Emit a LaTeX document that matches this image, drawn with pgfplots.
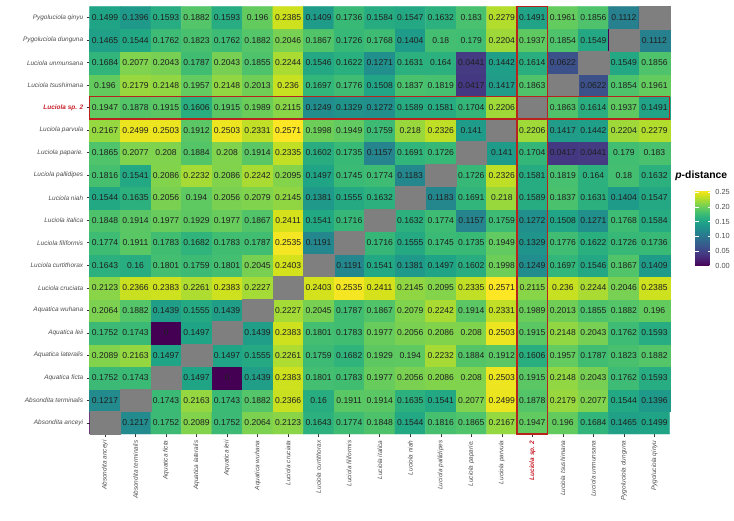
\documentclass[border=0pt]{standalone}
\usepackage{fontspec}
\setmainfont{Liberation Sans}
\usepackage{pgfplots}
\usepackage{pgfplotstable}
\pgfplotsset{compat=1.18}
\definecolor{gray30}{RGB}{77,77,77}
\definecolor{gray20}{RGB}{51,51,51}
\definecolor{naGray}{RGB}{127,127,127}
\definecolor{spred}{RGB}{200,30,40}
\definecolor{boxred}{RGB}{185,35,30}
\pgfdeclareplotmark{cell}{%
  \pgfpathrectangle{\pgfpoint{-15.263bp}{-11.25bp}}{\pgfpoint{30.526bp}{22.5bp}}%
  \pgfusepathqfillstroke}
% p-distance matrix (x = column, y = row; diagonal = self distance, shown grey)
\pgfplotstableread[row sep=\\]{
x y v\\
0 0 0\\ 1 0 0.1217\\ 2 0 0.1752\\ 3 0 0.2089\\ 4 0 0.1752\\ 5 0 0.2064\\ 6 0 0.2123\\ 7 0 0.1643\\ 8 0 0.1774\\ 9 0 0.1848\\ 10 0 0.1544\\ 11 0 0.1816\\ 12 0 0.1865\\ 13 0 0.2167\\ 14 0 0.1947\\ 15 0 0.196\\ 16 0 0.1684\\ 17 0 0.1465\\ 18 0 0.1499\\
0 1 0.1217\\ 1 1 0\\ 2 1 0.1743\\ 3 1 0.2163\\ 4 1 0.1743\\ 5 1 0.1882\\ 6 1 0.2366\\ 7 1 0.16\\ 8 1 0.1911\\ 9 1 0.1914\\ 10 1 0.1635\\ 11 1 0.1541\\ 12 1 0.2077\\ 13 1 0.2499\\ 14 1 0.1878\\ 15 1 0.2179\\ 16 1 0.2077\\ 17 1 0.1544\\ 18 1 0.1396\\
0 2 0.1752\\ 1 2 0.1743\\ 2 2 0\\ 3 2 0.1497\\ 4 2 0\\ 5 2 0.1439\\ 6 2 0.2383\\ 7 2 0.1801\\ 8 2 0.1783\\ 9 2 0.1977\\ 10 2 0.2056\\ 11 2 0.2086\\ 12 2 0.208\\ 13 2 0.2503\\ 14 2 0.1915\\ 15 2 0.2148\\ 16 2 0.2043\\ 17 2 0.1762\\ 18 2 0.1593\\
0 3 0.2089\\ 1 3 0.2163\\ 2 3 0.1497\\ 3 3 0\\ 4 3 0.1497\\ 5 3 0.1555\\ 6 3 0.2261\\ 7 3 0.1759\\ 8 3 0.1682\\ 9 3 0.1929\\ 10 3 0.194\\ 11 3 0.2232\\ 12 3 0.1884\\ 13 3 0.1912\\ 14 3 0.1606\\ 15 3 0.1957\\ 16 3 0.1787\\ 17 3 0.1823\\ 18 3 0.1882\\
0 4 0.1752\\ 1 4 0.1743\\ 2 4 0\\ 3 4 0.1497\\ 4 4 0\\ 5 4 0.1439\\ 6 4 0.2383\\ 7 4 0.1801\\ 8 4 0.1783\\ 9 4 0.1977\\ 10 4 0.2056\\ 11 4 0.2086\\ 12 4 0.208\\ 13 4 0.2503\\ 14 4 0.1915\\ 15 4 0.2148\\ 16 4 0.2043\\ 17 4 0.1762\\ 18 4 0.1593\\
0 5 0.2064\\ 1 5 0.1882\\ 2 5 0.1439\\ 3 5 0.1555\\ 4 5 0.1439\\ 5 5 0\\ 6 5 0.2227\\ 7 5 0.2045\\ 8 5 0.1787\\ 9 5 0.1867\\ 10 5 0.2079\\ 11 5 0.2242\\ 12 5 0.1914\\ 13 5 0.2331\\ 14 5 0.1989\\ 15 5 0.2013\\ 16 5 0.1855\\ 17 5 0.1882\\ 18 5 0.196\\
0 6 0.2123\\ 1 6 0.2366\\ 2 6 0.2383\\ 3 6 0.2261\\ 4 6 0.2383\\ 5 6 0.2227\\ 6 6 0\\ 7 6 0.2403\\ 8 6 0.2535\\ 9 6 0.2411\\ 10 6 0.2145\\ 11 6 0.2095\\ 12 6 0.2335\\ 13 6 0.2571\\ 14 6 0.2115\\ 15 6 0.236\\ 16 6 0.2244\\ 17 6 0.2046\\ 18 6 0.2385\\
0 7 0.1643\\ 1 7 0.16\\ 2 7 0.1801\\ 3 7 0.1759\\ 4 7 0.1801\\ 5 7 0.2045\\ 6 7 0.2403\\ 7 7 0\\ 8 7 0.1191\\ 9 7 0.1541\\ 10 7 0.1381\\ 11 7 0.1497\\ 12 7 0.1602\\ 13 7 0.1998\\ 14 7 0.1249\\ 15 7 0.1697\\ 16 7 0.1546\\ 17 7 0.1867\\ 18 7 0.1409\\
0 8 0.1774\\ 1 8 0.1911\\ 2 8 0.1783\\ 3 8 0.1682\\ 4 8 0.1783\\ 5 8 0.1787\\ 6 8 0.2535\\ 7 8 0.1191\\ 8 8 0\\ 9 8 0.1716\\ 10 8 0.1555\\ 11 8 0.1745\\ 12 8 0.1735\\ 13 8 0.1949\\ 14 8 0.1329\\ 15 8 0.1776\\ 16 8 0.1622\\ 17 8 0.1726\\ 18 8 0.1736\\
0 9 0.1848\\ 1 9 0.1914\\ 2 9 0.1977\\ 3 9 0.1929\\ 4 9 0.1977\\ 5 9 0.1867\\ 6 9 0.2411\\ 7 9 0.1541\\ 8 9 0.1716\\ 9 9 0\\ 10 9 0.1632\\ 11 9 0.1774\\ 12 9 0.1157\\ 13 9 0.1759\\ 14 9 0.1272\\ 15 9 0.1508\\ 16 9 0.1271\\ 17 9 0.1768\\ 18 9 0.1584\\
0 10 0.1544\\ 1 10 0.1635\\ 2 10 0.2056\\ 3 10 0.194\\ 4 10 0.2056\\ 5 10 0.2079\\ 6 10 0.2145\\ 7 10 0.1381\\ 8 10 0.1555\\ 9 10 0.1632\\ 10 10 0\\ 11 10 0.1183\\ 12 10 0.1691\\ 13 10 0.218\\ 14 10 0.1589\\ 15 10 0.1837\\ 16 10 0.1631\\ 17 10 0.1404\\ 18 10 0.1547\\
0 11 0.1816\\ 1 11 0.1541\\ 2 11 0.2086\\ 3 11 0.2232\\ 4 11 0.2086\\ 5 11 0.2242\\ 6 11 0.2095\\ 7 11 0.1497\\ 8 11 0.1745\\ 9 11 0.1774\\ 10 11 0.1183\\ 11 11 0\\ 12 11 0.1726\\ 13 11 0.2326\\ 14 11 0.1581\\ 15 11 0.1819\\ 16 11 0.164\\ 17 11 0.18\\ 18 11 0.1632\\
0 12 0.1865\\ 1 12 0.2077\\ 2 12 0.208\\ 3 12 0.1884\\ 4 12 0.208\\ 5 12 0.1914\\ 6 12 0.2335\\ 7 12 0.1602\\ 8 12 0.1735\\ 9 12 0.1157\\ 10 12 0.1691\\ 11 12 0.1726\\ 12 12 0\\ 13 12 0.141\\ 14 12 0.1704\\ 15 12 0.0417\\ 16 12 0.0441\\ 17 12 0.179\\ 18 12 0.183\\
0 13 0.2167\\ 1 13 0.2499\\ 2 13 0.2503\\ 3 13 0.1912\\ 4 13 0.2503\\ 5 13 0.2331\\ 6 13 0.2571\\ 7 13 0.1998\\ 8 13 0.1949\\ 9 13 0.1759\\ 10 13 0.218\\ 11 13 0.2326\\ 12 13 0.141\\ 13 13 0\\ 14 13 0.2206\\ 15 13 0.1417\\ 16 13 0.1442\\ 17 13 0.2204\\ 18 13 0.2279\\
0 14 0.1947\\ 1 14 0.1878\\ 2 14 0.1915\\ 3 14 0.1606\\ 4 14 0.1915\\ 5 14 0.1989\\ 6 14 0.2115\\ 7 14 0.1249\\ 8 14 0.1329\\ 9 14 0.1272\\ 10 14 0.1589\\ 11 14 0.1581\\ 12 14 0.1704\\ 13 14 0.2206\\ 14 14 0\\ 15 14 0.1863\\ 16 14 0.1614\\ 17 14 0.1937\\ 18 14 0.1491\\
0 15 0.196\\ 1 15 0.2179\\ 2 15 0.2148\\ 3 15 0.1957\\ 4 15 0.2148\\ 5 15 0.2013\\ 6 15 0.236\\ 7 15 0.1697\\ 8 15 0.1776\\ 9 15 0.1508\\ 10 15 0.1837\\ 11 15 0.1819\\ 12 15 0.0417\\ 13 15 0.1417\\ 14 15 0.1863\\ 15 15 0\\ 16 15 0.0622\\ 17 15 0.1854\\ 18 15 0.1961\\
0 16 0.1684\\ 1 16 0.2077\\ 2 16 0.2043\\ 3 16 0.1787\\ 4 16 0.2043\\ 5 16 0.1855\\ 6 16 0.2244\\ 7 16 0.1546\\ 8 16 0.1622\\ 9 16 0.1271\\ 10 16 0.1631\\ 11 16 0.164\\ 12 16 0.0441\\ 13 16 0.1442\\ 14 16 0.1614\\ 15 16 0.0622\\ 16 16 0\\ 17 16 0.1549\\ 18 16 0.1856\\
0 17 0.1465\\ 1 17 0.1544\\ 2 17 0.1762\\ 3 17 0.1823\\ 4 17 0.1762\\ 5 17 0.1882\\ 6 17 0.2046\\ 7 17 0.1867\\ 8 17 0.1726\\ 9 17 0.1768\\ 10 17 0.1404\\ 11 17 0.18\\ 12 17 0.179\\ 13 17 0.2204\\ 14 17 0.1937\\ 15 17 0.1854\\ 16 17 0.1549\\ 17 17 0\\ 18 17 0.1112\\
0 18 0.1499\\ 1 18 0.1396\\ 2 18 0.1593\\ 3 18 0.1882\\ 4 18 0.1593\\ 5 18 0.196\\ 6 18 0.2385\\ 7 18 0.1409\\ 8 18 0.1736\\ 9 18 0.1584\\ 10 18 0.1547\\ 11 18 0.1632\\ 12 18 0.183\\ 13 18 0.2279\\ 14 18 0.1491\\ 15 18 0.1961\\ 16 18 0.1856\\ 17 18 0.1112\\ 18 18 0\\
}\dist
\begin{document}
\begin{tikzpicture}
\begin{axis}[
  name=main,
  scale only axis, width=580bp, height=427.5bp,
  xmin=-0.5, xmax=18.5, ymin=-0.5, ymax=18.5,
  clip=false,
  axis line style={draw=none},
  tick align=outside, major tick length=3bp,
  tick style={gray20, line width=0.5bp},
  xtick={0,...,18}, ytick={0,...,18},
  xtick pos=left, ytick pos=left,
  xticklabels={{Absondita anceyi},{Absondita terminalis},{Aquatica ficta},{Aquatica lateralis},{Aquatica leii},{Aquatica wuhana},{Luciola cruciata},{Luciola curtithorax},{Luciola filiformis},{Luciola italica},{Luciola niah},{Luciola pallidipes},{Luciola paparie.},{Luciola parvula},{\textcolor{spred}{\bfseries Luciola sp. 2}},{Luciola tsushimana},{Luciola unmunsana},{Pygoluciola dunguna},{Pygoluciola qinyu}},
  yticklabels={{Absondita anceyi},{Absondita terminalis},{Aquatica ficta},{Aquatica lateralis},{Aquatica leii},{Aquatica wuhana},{Luciola cruciata},{Luciola curtithorax},{Luciola filiformis},{Luciola italica},{Luciola niah},{Luciola pallidipes},{Luciola paparie.},{Luciola parvula},{\textcolor{spred}{\bfseries Luciola sp. 2}},{Luciola tsushimana},{Luciola unmunsana},{Pygoluciola dunguna},{Pygoluciola qinyu}},
  xticklabel style={rotate=90, anchor=east, font=\fontsize{6.5}{7}\selectfont\itshape, text=gray30},
  yticklabel style={anchor=east, font=\fontsize{6.5}{7}\selectfont\itshape, text=gray30},
  colormap/viridis,
  point meta min=0, point meta max=0.2571,
  colorbar,
  colorbar style={
    scale only axis, width=16.7bp, height=76bp,
    at={(parent axis.south east)}, anchor=south west,
    xshift=17bp, yshift=168bp,
    axis line style={draw=none},
    ytick={0,0.05,0.1,0.15,0.2,0.25},
    ytick pos=both, yticklabel pos=right,
    tick align=inside, major tick length=3.5bp,
    tick style={white, line width=0.6bp},
    yticklabel style={anchor=west, font=\fontsize{7.4}{8}\selectfont, text=gray30,
      /pgf/number format/.cd, fixed, fixed zerofill, precision=2, assume math mode=true},
  },
]
% coloured tiles
\addplot[matrix plot*, mesh/cols=19, point meta=explicit] table[x=x, y=y, meta=v] {\dist};
% grey diagonal (NA)
\addplot[only marks, mark=cell, mark options={fill=naGray, draw=naGray, line width=0.3bp},
  unbounded coords=discard, y filter/.expression={x==y ? y : nan}]
  table[x=x, y=y] {\dist};
% cell values
\addplot[draw=none, mark=none, point meta=explicit,
  unbounded coords=discard, y filter/.expression={x==y ? nan : y},
  nodes near coords={\pgfmathprintnumber[fixed,precision=4,assume math mode=true]{\pgfplotspointmeta}},
  nodes near coords align=center,
  every node near coord/.append style={anchor=center, text=black!88, font=\fontsize{8.6}{9}\selectfont, inner sep=0pt},
] table[x=x, y=y, meta=v] {\dist};
\coordinate (ra) at (axis cs:-0.5,13.5);
\coordinate (rb) at (axis cs:18.5,14.5);
\coordinate (ca) at (axis cs:13.5,-0.5);
\coordinate (cb) at (axis cs:14.5,18.5);
\end{axis}
\draw[boxred, line width=1.2bp] (ra) rectangle (rb);
\draw[boxred, line width=1.2bp] (ca) rectangle (cb);
\node[anchor=west, inner sep=0pt, font=\fontsize{10.4}{12}\selectfont\bfseries] at ([xshift=5.5bp, yshift=-169.5bp]main.north east) {\textit{p}-distance};
\pgfresetboundingbox
\path ([xshift=-89.7bp, yshift=-87bp]main.south west) rectangle ([xshift=64.3bp, yshift=6.5bp]main.north east);
\end{tikzpicture}
\end{document}
